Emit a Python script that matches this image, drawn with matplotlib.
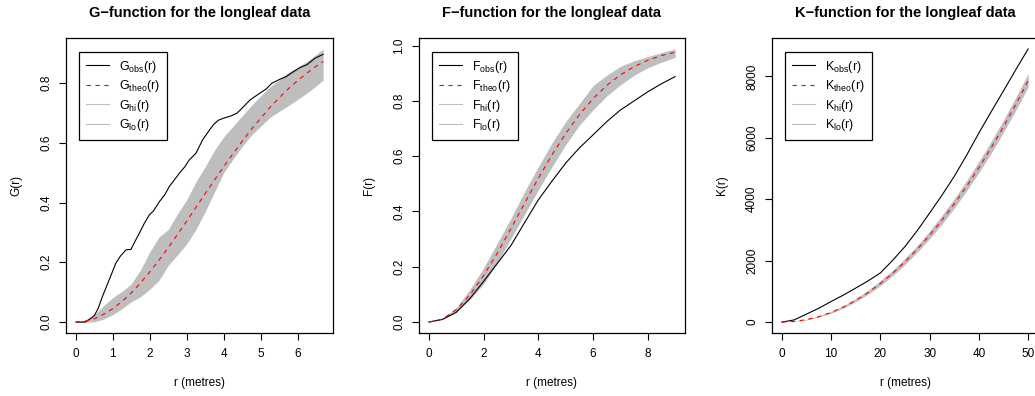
import numpy as np
import matplotlib
matplotlib.use('Agg')
import matplotlib.pyplot as plt
from matplotlib.lines import Line2D

plt.rcParams['font.family'] = ['Liberation Sans', 'DejaVu Sans']
plt.rcParams['mathtext.fontset'] = 'custom'
plt.rcParams['mathtext.rm'] = 'Liberation Sans'
plt.rcParams['mathtext.it'] = 'Liberation Sans'

# ---- G-function (nearest neighbour distances) ----
g_r_obs = [0, 0.25, 0.4, 0.5, 0.6, 0.72, 0.9, 1.08, 1.2, 1.36, 1.49, 1.6, 1.72, 1.85,
           1.99, 2.1, 2.26, 2.4, 2.53, 2.66, 2.8, 2.95, 3.07, 3.25, 3.43, 3.6, 3.72,
           3.85, 3.99, 4.2, 4.36, 4.54, 4.71, 4.85, 4.98, 5.15, 5.3, 5.53, 5.7, 5.89,
           6.07, 6.25, 6.47, 6.69]
g_obs = [0, 0, 0.012, 0.022, 0.045, 0.086, 0.141, 0.197, 0.22, 0.242, 0.243, 0.27,
         0.298, 0.33, 0.359, 0.372, 0.403, 0.425, 0.454, 0.475, 0.498, 0.52, 0.543,
         0.565, 0.61, 0.64, 0.66, 0.675, 0.682, 0.69, 0.699, 0.721, 0.743, 0.755,
         0.766, 0.78, 0.799, 0.813, 0.822, 0.838, 0.852, 0.861, 0.883, 0.896]
g_r = [0, 0.25, 0.5, 0.75, 1.0, 1.25, 1.5, 1.75, 2.0, 2.25, 2.5, 2.75, 3.0, 3.25, 3.5,
       3.75, 4.0, 4.25, 4.5, 4.75, 5.0, 5.25, 5.5, 5.75, 6.0, 6.25, 6.5, 6.69]
g_theo = [0, 0.003, 0.011, 0.026, 0.045, 0.069, 0.098, 0.131, 0.168, 0.207, 0.249,
          0.293, 0.338, 0.384, 0.430, 0.475, 0.520, 0.563, 0.605, 0.645, 0.682, 0.718,
          0.750, 0.781, 0.808, 0.833, 0.856, 0.872]
g_hi = [0, 0.006, 0.025, 0.055, 0.082, 0.103, 0.128, 0.175, 0.235, 0.285, 0.31, 0.362,
        0.41, 0.47, 0.52, 0.575, 0.62, 0.655, 0.69, 0.725, 0.757, 0.787, 0.81, 0.836,
        0.853, 0.872, 0.895, 0.914]
g_lo = [0, 0, 0.001, 0.01, 0.025, 0.045, 0.068, 0.085, 0.11, 0.14, 0.19, 0.225, 0.262,
        0.31, 0.37, 0.435, 0.5, 0.545, 0.588, 0.626, 0.655, 0.685, 0.705, 0.724, 0.745,
        0.766, 0.79, 0.81]

# ---- F-function (empty space) ----
f_r = [0, 0.5, 1, 1.5, 2, 2.5, 3, 3.5, 4, 4.5, 5, 5.5, 6, 6.5, 7, 7.5, 8, 8.5, 9]
f_obs = [0, 0.01, 0.035, 0.085, 0.147, 0.212, 0.277, 0.36, 0.442, 0.51, 0.575, 0.63,
         0.677, 0.725, 0.767, 0.80, 0.833, 0.862, 0.888]
f_theo = [0, 0.011, 0.045, 0.098, 0.168, 0.249, 0.338, 0.430, 0.520, 0.605, 0.682,
          0.750, 0.808, 0.856, 0.894, 0.924, 0.947, 0.964, 0.976]
f_hi = [0, 0.013, 0.052, 0.118, 0.196, 0.285, 0.375, 0.472, 0.562, 0.648, 0.725, 0.79,
        0.855, 0.893, 0.925, 0.945, 0.96, 0.975, 0.988]
f_lo = [0, 0.009, 0.038, 0.082, 0.138, 0.215, 0.302, 0.39, 0.478, 0.562, 0.642, 0.712,
        0.768, 0.818, 0.858, 0.893, 0.92, 0.94, 0.958]

# ---- K-function ----
k_r = [0, 2.5, 5, 7.5, 10, 12.5, 15, 17.5, 20, 22.5, 25, 27.5, 30, 32.5, 35, 37.5,
       40, 42.5, 45, 47.5, 50]
k_obs = [0, 70, 260, 450, 670, 880, 1107, 1340, 1600, 2010, 2460, 2980, 3550, 4130,
         4743, 5430, 6156, 6850, 7530, 8220, 8893]
k_theo = [0, 19.6, 78.5, 176.7, 314.2, 490.9, 706.9, 962.1, 1256.6, 1590.4, 1963.5,
          2375.8, 2827.4, 3318.3, 3848.5, 4417.9, 5026.5, 5674.5, 6361.7, 7088.2, 7854.0]
k_hi = [0, 23, 94, 200, 349, 535, 767, 1035, 1347, 1690, 2074, 2495, 2967, 3475, 4019,
        4605, 5227, 5885, 6582, 7320, 8094]
k_lo = [0, 17, 68, 160, 289, 455, 662, 905, 1187, 1510, 1874, 2280, 2717, 3190, 3709,
        4270, 4867, 5500, 6182, 6900, 7654]

GREY = '#BEBEBE'
FS = 8.5


def r_style(ax, x, ylo, yhi, xticks, yticks, yfmt):
    # R-like 4% padding of the data range
    xmin, xmax = min(x), max(x)
    px = 0.04 * (xmax - xmin)
    py = 0.04 * (yhi - ylo)
    ax.set_xlim(xmin - px, xmax + px)
    ax.set_ylim(ylo - py, yhi + py)
    ax.set_xticks(xticks)
    ax.set_yticks(yticks)
    ax.set_yticklabels([yfmt(v) for v in yticks], rotation=90, va='center')
    ax.tick_params(direction='out', length=5, width=0.8, labelsize=FS, pad=6)
    ax.tick_params(axis='y', pad=5)
    for s in ax.spines.values():
        s.set_linewidth(0.9)
        s.set_color('black')


def panel(ax, letter, r_obs, obs, r, theo, hi, lo, title, ylabel, xticks, yticks, yfmt):
    ax.fill_between(r, lo, hi, color=GREY, lw=0)
    ax.plot(r_obs, obs, color='black', lw=0.8)
    ax.plot(r, theo, color='red', lw=0.8, ls=(0, (4, 4)))
    ylo = min(min(obs), min(lo))
    yhi = max(max(obs), max(hi))
    r_style(ax, r, ylo, yhi, xticks, yticks, yfmt)
    ax.set_title(title, fontsize=10.5, fontweight='bold', pad=15)
    ax.set_xlabel('r (metres)', fontsize=FS, labelpad=12)
    ax.set_ylabel(ylabel, fontsize=FS, labelpad=13)
    handles = [Line2D([], [], color='black', lw=0.8),
               Line2D([], [], color='red', lw=0.8, ls=(0, (4, 4))),
               Line2D([], [], color=GREY, lw=0.8),
               Line2D([], [], color=GREY, lw=0.8)]
    labels = [r'$\mathrm{%s_{obs}(r)}$' % letter, r'$\mathrm{%s_{theo}(r)}$' % letter,
              r'$\mathrm{%s_{hi}(r)}$' % letter, r'$\mathrm{%s_{lo}(r)}$' % letter]
    leg = ax.legend(handles, labels, loc='upper left', bbox_to_anchor=(0.048, 0.953),
                    borderaxespad=0, fontsize=9, frameon=True, fancybox=False,
                    edgecolor='black', framealpha=1, handlelength=1.9,
                    handletextpad=0.8, labelspacing=0.28, borderpad=0.55)
    leg.get_frame().set_linewidth(0.9)


fig = plt.figure(figsize=(10.35, 3.96), dpi=100)
ax1 = fig.add_axes([66 / 1035, 63 / 396, 267 / 1035, 295 / 396])
ax2 = fig.add_axes([419 / 1035, 63 / 396, 266 / 1035, 295 / 396])
ax3 = fig.add_axes([772 / 1035, 63 / 396, 266 / 1035, 295 / 396])

panel(ax1, 'G', g_r_obs, g_obs, g_r, g_theo, g_hi, g_lo,
      'G\u2212function for the longleaf data', 'G(r)',
      [0, 1, 2, 3, 4, 5, 6], [0, 0.2, 0.4, 0.6, 0.8], lambda v: f'{v:.1f}')
panel(ax2, 'F', f_r, f_obs, f_r, f_theo, f_hi, f_lo,
      'F\u2212function for the longleaf data', 'F(r)',
      [0, 2, 4, 6, 8], [0, 0.2, 0.4, 0.6, 0.8, 1.0], lambda v: f'{v:.1f}')
panel(ax3, 'K', k_r, k_obs, k_r, k_theo, k_hi, k_lo,
      'K\u2212function for the longleaf data', 'K(r)',
      [0, 10, 20, 30, 40, 50], [0, 2000, 4000, 6000, 8000], lambda v: f'{v:.0f}')

fig.savefig('out.png', dpi=100)
